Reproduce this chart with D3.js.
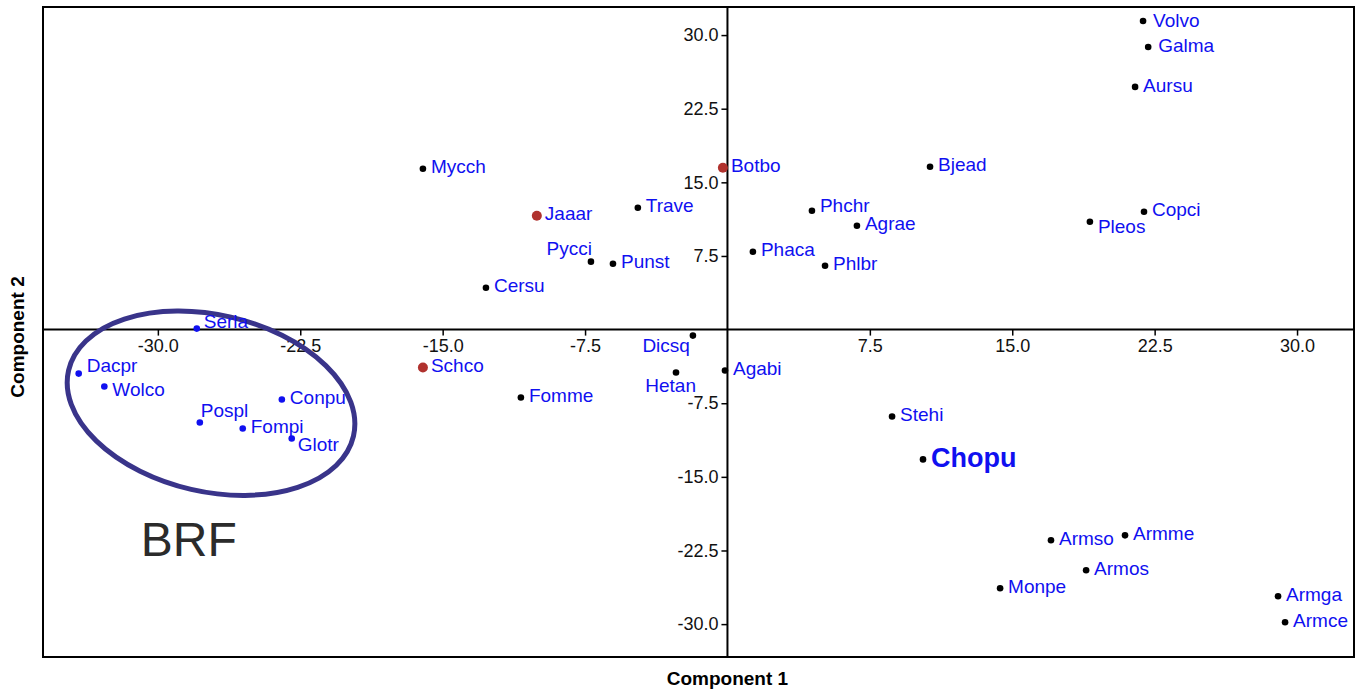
<!DOCTYPE html>
<html>
<head>
<meta charset="utf-8">
<script src="https://cdn.jsdelivr.net/npm/d3@7"></script>
<style>
  body { margin: 0; background: #fff; }
  svg { display: block; }
</style>
</head>
<body>
<script>
// species codes and their scores on the first two components
const species = ["Volvo", "Galma", "Aursu", "Bjead", "Botbo", "Mycch", "Jaaar", "Trave", "Phchr", "Agrae",
  "Copci", "Pleos", "Phaca", "Pycci", "Punst", "Phlbr", "Cersu", "Serla", "Dicsq", "Schco",
  "Dacpr", "Hetan", "Agabi", "Wolco", "Fomme", "Conpu", "Pospl", "Fompi", "Glotr", "Stehi",
  "Chopu", "Armso", "Armme", "Armos", "Monpe", "Armga", "Armce"];
const comp1 = [21.89, 22.16, 21.47, 10.67, -0.24, -16.04, -10.04, -4.72, 4.45, 6.82,
  21.94, 19.09, 1.34, -7.19, -6.03, 5.14, -12.72, -27.95, -1.82, -16.04,
  -34.17, -2.71, -0.13, -32.82, -10.88, -23.47, -27.79, -25.53, -22.95, 8.67,
  10.30, 17.04, 20.94, 18.89, 14.36, 29.00, 29.37];
const comp2 = [31.43, 28.79, 24.72, 16.58, 16.48, 16.38, 11.60, 12.41, 12.11, 10.58,
  12.00, 10.99, 7.93, 6.92, 6.71, 6.51, 4.27, 0.10, -0.61, -3.87,
  -4.48, -4.37, -4.17, -5.80, -6.92, -7.12, -9.46, -10.07, -11.09, -8.85,
  -13.22, -21.46, -20.96, -24.52, -26.35, -27.16, -29.81];
const brf = ["Serla", "Dacpr", "Wolco", "Conpu", "Pospl", "Fompi", "Glotr"];
const redOnes = ["Botbo", "Jaaar", "Schco"];
const xTicks = [-30, -22.5, -15, -7.5, 7.5, 15, 22.5, 30];
const yTicks = [-30, -22.5, -15, -7.5, 7.5, 15, 22.5, 30];

// label nudges where the default (right of the dot) is not used
const nudge = {
  Serla: [7, -7, "start"], Dacpr: [8, -8, "start"], Pospl: [1, -12, "start"],
  Glotr: [6, 6, "start"], Pleos: [8, 5, "start"], Phchr: [8, -5, "start"],
  Hetan: [20, 13, "end"], Dicsq: [-3, 10, "end"], Pycci: [1, -13, "end"],
  Wolco: [8, 3, "start"], Galma: [10, -2, "start"], Volvo: [10, -1, "start"]
};

const W = 1364, H = 690;
const mLeft = 43, mRight = 1354, mTop = 7, mBottom = 657;

const x = d3.scaleLinear().domain([-36.05, 33.0]).range([mLeft, mRight]);
const y = d3.scaleLinear().domain([-33.35, 32.86]).range([mBottom, mTop]);

const svg = d3.select("body").append("svg")
  .attr("width", W).attr("height", H)
  .attr("font-family", "'Liberation Sans', Arial, sans-serif");

// frame
svg.append("rect")
  .attr("x", mLeft).attr("y", mTop)
  .attr("width", mRight - mLeft).attr("height", mBottom - mTop)
  .attr("fill", "none").attr("stroke", "#000").attr("stroke-width", 2);

// zero lines
svg.append("line")
  .attr("x1", mLeft).attr("x2", mRight).attr("y1", y(0)).attr("y2", y(0))
  .attr("stroke", "#000").attr("stroke-width", 2);
svg.append("line")
  .attr("x1", x(0)).attr("x2", x(0)).attr("y1", mTop).attr("y2", mBottom)
  .attr("stroke", "#000").attr("stroke-width", 2);

const fmt = d => d.toFixed(1);

const gx = svg.append("g")
  .attr("transform", `translate(0,${y(0)})`)
  .call(d3.axisBottom(x).tickValues(xTicks).tickFormat(fmt).tickSize(6).tickPadding(4));
gx.select(".domain").remove();

const gy = svg.append("g")
  .attr("transform", `translate(${x(0)},0)`)
  .call(d3.axisLeft(y).tickValues(yTicks).tickFormat(fmt).tickSize(6).tickPadding(3));
gy.select(".domain").remove();

svg.selectAll(".tick text")
  .attr("font-family", "'Liberation Sans', Arial, sans-serif")
  .attr("font-size", 18).attr("fill", "#111");
svg.selectAll(".tick line").attr("stroke", "#000").attr("stroke-width", 1.5);

// BRF ellipse
const ex = x(-27.2), ey = y(-7.5);
svg.append("ellipse")
  .attr("cx", ex).attr("cy", ey)
  .attr("rx", x(7.7) - x(0)).attr("ry", y(0) - y(9.0))
  .attr("transform", `rotate(13,${ex},${ey})`)
  .attr("fill", "none").attr("stroke", "#39348a").attr("stroke-width", 5);

svg.append("text")
  .attr("x", x(-30.9)).attr("y", y(-23.1))
  .attr("font-size", 48).attr("fill", "#2b2b2b")
  .text("BRF");

const pts = species.map((s, i) => ({ name: s, c1: comp1[i], c2: comp2[i] }));

svg.selectAll("circle.pt")
  .data(pts)
  .join("circle")
  .attr("class", "pt")
  .attr("cx", d => x(d.c1)).attr("cy", d => y(d.c2))
  .attr("r", d => redOnes.includes(d.name) ? 5 : 3.3)
  .attr("fill", d => redOnes.includes(d.name) ? "#b0322e" : brf.includes(d.name) ? "#1010f0" : "#000");

svg.selectAll("text.lab")
  .data(pts)
  .join("text")
  .attr("class", "lab")
  .attr("x", d => x(d.c1) + (nudge[d.name] ? nudge[d.name][0] : 8))
  .attr("y", d => y(d.c2) + (nudge[d.name] ? nudge[d.name][1] : -2))
  .attr("dy", "0.35em")
  .attr("text-anchor", d => nudge[d.name] ? nudge[d.name][2] : "start")
  .attr("font-size", d => d.name === "Chopu" ? 27 : 19)
  .attr("font-weight", d => d.name === "Chopu" ? "bold" : "normal")
  .attr("fill", "#1010f0")
  .text(d => d.name);

// axis titles
svg.append("text")
  .attr("x", x(0)).attr("y", 685)
  .attr("text-anchor", "middle")
  .attr("font-size", 19).attr("font-weight", "bold")
  .text("Component 1");

svg.append("text")
  .attr("transform", `translate(24,${(mTop + mBottom) / 2 + 5}) rotate(-90)`)
  .attr("text-anchor", "middle")
  .attr("font-size", 19).attr("font-weight", "bold")
  .text("Component 2");
</script>
</body>
</html>
